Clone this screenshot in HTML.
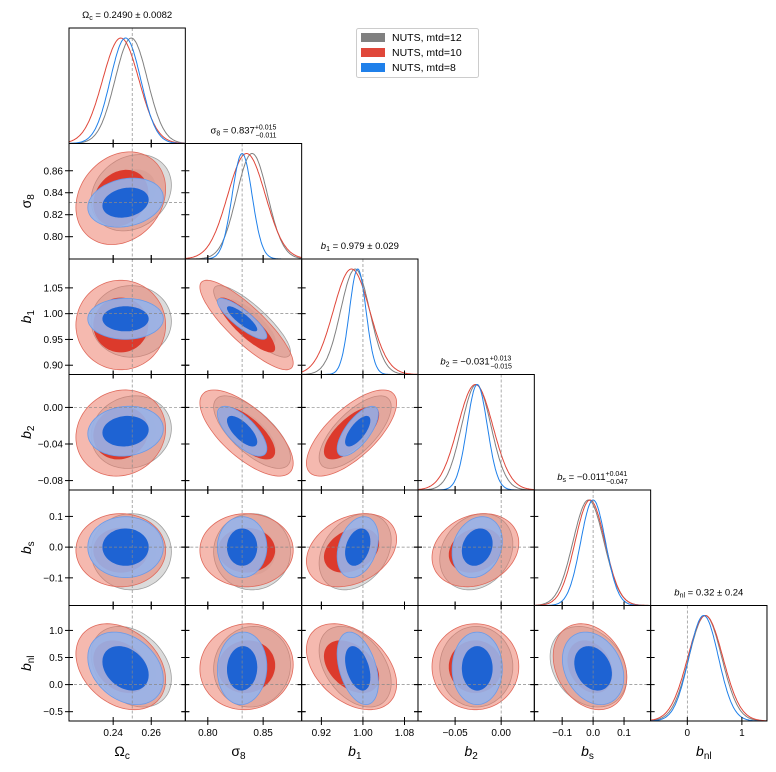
<!DOCTYPE html>
<html><head><meta charset="utf-8">
<style>
html,body{margin:0;padding:0;background:#fff;}
svg{display:block;font-family:"Liberation Sans","DejaVu Sans",sans-serif;}
</style></head>
<body>
<svg id="chart" width="776" height="772" viewBox="0 0 776 772" xmlns="http://www.w3.org/2000/svg">
<g id="legend">
  <rect x="356.5" y="28.5" width="122" height="49" fill="#fff" stroke="#ccc" rx="2"/>
  <g><rect x="361" y="33" width="24" height="9" fill="#808080"/><text x="392" y="41" font-size="10.5">NUTS, mtd=12</text></g>
  <g><rect x="361" y="48" width="24" height="9" fill="#e0473a"/><text x="392" y="56" font-size="10.5">NUTS, mtd=10</text></g>
  <g><rect x="361" y="63" width="24" height="9" fill="#1f80ea"/><text x="392" y="71" font-size="10.5">NUTS, mtd=8</text></g>
</g>
</svg>
<script>
const params = ["Oc","s8","b1","b2","bs","bnl"];
const rangeLo = [0.2168, 0.7797, 0.882, -0.0903, -0.19, -0.672];
const rangeHi = [0.2779, 0.8848, 1.106, 0.036, 0.186, 1.46];
const truths = [0.25, 0.831, 1.0, 0.0, 0.0, 0.0];
const meansGray = [0.2495, 0.840, 0.985, -0.027, -0.015, 0.33];
const sigmasGray = [0.0085, 0.014, 0.028, 0.016, 0.050, 0.30];
const meansRed = [0.2440, 0.835, 0.978, -0.028, -0.010, 0.33];
const sigmasRed = [0.0095, 0.017, 0.035, 0.019, 0.048, 0.32];
const meansBlue = [0.2465, 0.831, 0.990, -0.026, 0.000, 0.30];
const sigmasBlue = [0.0080, 0.009, 0.016, 0.011, 0.040, 0.27];
const corr = [
 [1, 0.2, 0.0, 0.1, 0.0, -0.3],
 [0.2, 1, -0.85, -0.7, 0.0, 0.05],
 [0.0, -0.85, 1, 0.7, 0.3, -0.4],
 [0.1, -0.7, 0.7, 1, 0.2, 0.0],
 [0.0, 0.0, 0.3, 0.2, 1, -0.25],
 [-0.3, 0.05, -0.4, 0.0, -0.25, 1]];
const tickVals = [[0.24,0.26],[0.80,0.85],[0.92,1.00,1.08],[-0.05,0.00],[-0.1,0.0,0.1],[0,1]];
const tickLabels = [["0.24","0.26"],["0.80","0.85"],["0.92","1.00","1.08"],["\u22120.05","0.00"],["\u22120.1","0.0","0.1"],["0","1"]];
const yTickVals = [[],[0.80,0.82,0.84,0.86],[0.90,0.95,1.00,1.05],[-0.08,-0.04,0.00],[-0.1,0.0,0.1],[-0.5,0.0,0.5,1.0]];
const yTickLabels = [[],["0.80","0.82","0.84","0.86"],["0.90","0.95","1.00","1.05"],["\u22120.08","\u22120.04","0.00"],["\u22120.1","0.0","0.1"],["\u22120.5","0.0","0.5","1.0"]];

const NS="http://www.w3.org/2000/svg";
const svg=document.getElementById('chart');
const legend=document.getElementById('legend');
const X0=69, W=116.33, Y0=28, H=115.5;
function mk(tag,attrs,parent){const e=document.createElementNS(NS,tag);for(const k in attrs)e.setAttribute(k,attrs[k]);(parent||svg).appendChild(e);return e;}
function xmap(p,j,v){return X0+j*W+(v-rangeLo[p])/(rangeHi[p]-rangeLo[p])*W;}
function ymap(p,i,v){return Y0+i*H+(rangeHi[p]-v)/(rangeHi[p]-rangeLo[p])*H;}
const series=[
 {m:meansGray,s:sigmasGray,line:"#808080",light:"rgba(175,175,175,0.45)",dark:"rgba(160,160,160,0.25)",stroke:"#a0a0a0",name:"gray"},
 {m:meansRed,s:sigmasRed,line:"#e0473a",light:"rgba(236,115,95,0.5)",dark:"#dc3a2c",stroke:"#e06a5c",name:"red"},
 {m:meansBlue,s:sigmasBlue,line:"#1f80ea",light:"rgba(150,180,235,0.9)",dark:"#1e63d3",stroke:"#6a9ae8",name:"blue"}];

const plots=document.createElementNS(NS,'g');
svg.insertBefore(plots,legend);



for(let i=0;i<6;i++){for(let j=0;j<=i;j++){
  const L=X0+j*W,T=Y0+i*H;
  const g=mk('g',{},plots);
  
  
  const cid='clip'+i+'_'+j;
  const cp=mk('clipPath',{id:cid},g);mk('rect',{x:L,y:T,width:W,height:H},cp);
  const inner=mk('g',{'clip-path':'url(#'+cid+')'},g);
  if(i===j){
    series.forEach(S=>{
      let pts=[];
      for(let k=0;k<=200;k++){const v=rangeLo[i]+(rangeHi[i]-rangeLo[i])*k/200;
        const d=(v-S.m[i])/S.s[i];const yv=Math.exp(-0.5*d*d);
        pts.push(xmap(i,j,v).toFixed(1)+','+(T+H-yv*(H-10)).toFixed(1));}
      const pl=mk('polyline',{points:pts.join(' '),fill:'none',stroke:S.line,'stroke-width':1},inner);
      
      
    });
    const tx=xmap(i,j,truths[i]);
    mk('line',{x1:tx,x2:tx,y1:T,y2:T+H,stroke:'#888','stroke-width':0.7,'stroke-dasharray':'3,2'},inner);
  } else {
    const px=j,py=i;
    series.forEach(S=>{
      const rho=corr[px][py];
      [2.48,1.52].forEach((r,li)=>{
        let pts=[];
        for(let k=0;k<=90;k++){const t=2*Math.PI*k/90;
          const vx=S.m[px]+r*S.s[px]*Math.cos(t);
          const vy=S.m[py]+r*S.s[py]*(rho*Math.cos(t)+Math.sqrt(1-rho*rho)*Math.sin(t));
          pts.push(xmap(px,j,vx).toFixed(1)+','+ymap(py,i,vy).toFixed(1));}
        const pg=mk('polygon',{points:pts.join(' '),fill:li===0?S.light:S.dark,stroke:li===0?S.stroke:'none','stroke-width':0.8},inner);
        
        
      });
    });
    const tx=xmap(px,j,truths[px]),ty=ymap(py,i,truths[py]);
    mk('line',{x1:tx,x2:tx,y1:T,y2:T+H,stroke:'#888','stroke-width':0.7,'stroke-dasharray':'3,2'},inner);
    mk('line',{x1:L,x2:L+W,y1:ty,y2:ty,stroke:'#888','stroke-width':0.7,'stroke-dasharray':'3,2'},inner);
    yTickVals[i].forEach(v=>{const y=ymap(i,i,v);
      mk('line',{x1:L-4,x2:L+4,y1:y,y2:y,stroke:'#000','stroke-width':1},g);
      mk('line',{x1:L+W-4,x2:L+W+4,y1:y,y2:y,stroke:'#000','stroke-width':1},g);});
  }
  tickVals[j].forEach(v=>{const x=xmap(j,j,v);
    mk('line',{x1:x,x2:x,y1:T+H-4,y2:T+H+4,stroke:'#000','stroke-width':1},g);
    if(i!==j) mk('line',{x1:x,x2:x,y1:T-4,y2:T+4,stroke:'#000','stroke-width':1},g);});
  mk('rect',{x:L,y:T,width:W,height:H,fill:'none',stroke:'#000','stroke-width':1},g);
  if(i===5){tickVals[j].forEach((v,k)=>{const t=mk('text',{x:xmap(j,j,v),y:736,'font-size':10,'text-anchor':'middle'},g);t.textContent=tickLabels[j][k];});}
  if(j===0&&i>0){yTickVals[i].forEach((v,k)=>{const t=mk('text',{x:L-6,y:ymap(i,i,v)+3.5,'font-size':10,'text-anchor':'end'},g);t.textContent=yTickLabels[i][k];});}
}}
const lab=[['Ω','c'],['σ','8'],['b','1'],['b','2'],['b','s'],['b','nl']];
lab.forEach((l,j)=>{
  const t=mk('text',{x:X0+j*W+W/2-5,y:756,'font-size':14,'text-anchor':'middle'},svg);
  
  
  t.innerHTML=(l[0]==='b'?'<tspan font-style="italic">b</tspan>':l[0])+'<tspan font-size="10" dy="3">'+l[1]+'</tspan>';
  if(j>0){const yc=Y0+j*H+H/2;
    const u=mk('text',{x:0,y:0,'font-size':14,'text-anchor':'middle',transform:'translate(31,'+yc+') rotate(-90)'},svg);
    
    
    u.innerHTML=(l[0]==='b'?'<tspan font-style="italic">b</tspan>':l[0])+'<tspan font-size="10" dy="3">'+l[1]+'</tspan>';}
});
const titles=[
 'Ω<tspan font-size="7" dy="2">c</tspan><tspan dy="-2"> = 0.2490 ± 0.0082</tspan>',
 'σ<tspan font-size="7" dy="2">8</tspan><tspan dy="-2"> = 0.837</tspan><tspan font-size="7" dy="-4">+0.015</tspan><tspan font-size="7" dx="-21" dy="8">−0.011</tspan>',
 '<tspan font-style="italic">b</tspan><tspan font-size="7" dy="2">1</tspan><tspan dy="-2"> = 0.979 ± 0.029</tspan>',
 '<tspan font-style="italic">b</tspan><tspan font-size="7" dy="2">2</tspan><tspan dy="-2"> = −0.031</tspan><tspan font-size="7" dy="-4">+0.013</tspan><tspan font-size="7" dx="-21" dy="8">−0.015</tspan>',
 '<tspan font-style="italic">b</tspan><tspan font-size="7" dy="2">s</tspan><tspan dy="-2"> = −0.011</tspan><tspan font-size="7" dy="-4">+0.041</tspan><tspan font-size="7" dx="-21" dy="8">−0.047</tspan>',
 '<tspan font-style="italic">b</tspan><tspan font-size="7" dy="2">nl</tspan><tspan dy="-2"> = 0.32 ± 0.24</tspan>'];
titles.forEach((h,i)=>{
  const t=mk('text',{x:X0+i*W+W/2,y:Y0+i*H-10,'font-size':9.5,'text-anchor':'middle'},svg);
  
  
  t.innerHTML=h;
});
</script>
</body></html>
